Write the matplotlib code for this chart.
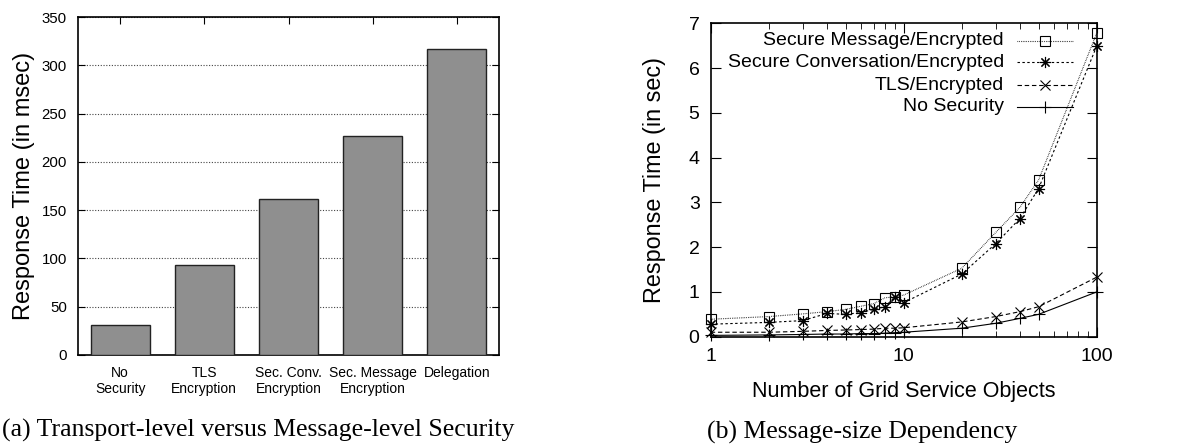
import matplotlib
matplotlib.use("Agg")
import matplotlib.pyplot as plt
from matplotlib.ticker import FixedLocator, NullFormatter

plt.rcParams['font.family'] = ['Liberation Sans', 'DejaVu Sans']

# ---- (a) transport-level vs message-level security ----
categories = ["No\nSecurity", "TLS\nEncryption", "Sec. Conv.\nEncryption",
              "Sec. Message\nEncryption", "Delegation"]
response_msec = [31, 93, 162, 227, 317]
yticks_a = [0, 50, 100, 150, 200, 250, 300, 350]

# ---- (b) message-size dependency ----
objects = [1, 2, 3, 4, 5, 6, 7, 8, 9, 10, 20, 30, 40, 50, 100]
secure_message = [0.39, 0.45, 0.51, 0.56, 0.61, 0.68, 0.74, 0.87, 0.89, 0.93,
                  1.53, 2.33, 2.89, 3.50, 6.78]
secure_conversation = [0.28, 0.32, 0.36, 0.52, 0.50, 0.54, 0.61, 0.67, 0.89, 0.76,
                       1.40, 2.08, 2.64, 3.31, 6.49]
tls_encrypted = [0.10, 0.10, 0.12, 0.14, 0.15, 0.16, 0.17, 0.19, 0.19, 0.20,
                 0.33, 0.45, 0.56, 0.67, 1.33]
no_security = [0.03, 0.04, 0.05, 0.06, 0.06, 0.07, 0.07, 0.08, 0.09, 0.10,
               0.19, 0.30, 0.41, 0.50, 1.00]
series_labels = ["Secure Message/Encrypted", "Secure Conversation/Encrypted",
                 "TLS/Encrypted", "No Security"]

fig = plt.figure(figsize=(11.8, 4.48), dpi=100)

# bar chart
ax1 = fig.add_axes([0.0661, 0.2076, 0.4229 - 0.0661, 0.962 - 0.2076])
xpos = list(range(len(categories)))
ax1.set_axisbelow(True)
ax1.yaxis.grid(True, linestyle=(0, (1, 1.5)), color="#444444", linewidth=0.8)
ax1.bar(xpos, response_msec, width=0.70, color="#8f8f8f", edgecolor="#222222",
        linewidth=1.0, zorder=3)
ax1.set_xlim(-0.5, 4.5)
ax1.set_ylim(0, 350)
ax1.set_yticks(yticks_a)
ax1.set_xticks(xpos)
ax1.set_xticklabels(categories, fontsize=10, linespacing=1.15)
ax1.tick_params(axis="y", direction="in", length=5, right=True, labelsize=10.8,
                pad=8)
ax1.tick_params(axis="x", direction="in", length=5, top=True, bottom=False,
                labelsize=10, pad=8)
ax1.set_ylabel("Response Time (in msec)", fontsize=17, labelpad=5)
for s in ax1.spines.values():
    s.set_linewidth(1.2)

# line chart
ax2 = fig.add_axes([0.6023, 0.2484, 0.9294 - 0.6023, 0.948 - 0.2484])
styles = [
    dict(linestyle=(0, (0.6, 1.0)), marker="s", markersize=7, mfc="none"),
    dict(linestyle=(0, (2.2, 2.2)), marker=(8, 2, 0), markersize=8, mfc="none"),
    dict(linestyle=(0, (4, 2.5)), marker="x", markersize=7, mfc="none"),
    dict(linestyle="-", marker="+", markersize=8, mfc="none"),
]
all_series = [secure_message, secure_conversation, tls_encrypted, no_security]
for vals, st in zip(all_series, styles):
    ax2.plot(objects, vals, color="black", linewidth=0.8, mec="black", mew=0.8,
             clip_on=False, **st)
ax2.set_xscale("log")
ax2.set_xlim(1, 100)
ax2.set_ylim(0, 7)
ax2.set_yticks(range(0, 8))
ax2.xaxis.set_major_locator(FixedLocator([1, 10, 100]))
ax2.set_xticklabels(["1", "10", "100"])
ax2.xaxis.set_minor_locator(FixedLocator([2, 3, 4, 5, 6, 7, 8, 9,
                                          20, 30, 40, 50, 60, 70, 80, 90]))
ax2.xaxis.set_minor_formatter(NullFormatter())
ax2.tick_params(which="major", direction="in", length=7, top=True, right=True,
                labelsize=14, pad=8)
ax2.tick_params(which="minor", direction="in", length=4, top=True, right=True)
ax2.set_xlabel("Number of Grid Service Objects", fontsize=15.5, labelpad=12)
ax2.set_ylabel("Response Time (in sec)", fontsize=16.8, labelpad=16)
for s in ax2.spines.values():
    s.set_linewidth(1.2)

# key: right-aligned text with sample line to its right
key_rows = [0.9445, 0.8756, 0.803, 0.734]
for label, st, yk in zip(series_labels, styles, key_rows):
    ax2.text(0.760, yk, label, transform=ax2.transAxes, ha="right",
             va="center", fontsize=14)
    ax2.plot([0.794, 0.939], [yk, yk], transform=ax2.transAxes, color="black",
             linewidth=0.8, linestyle=st["linestyle"], clip_on=False)
    ax2.plot([0.866], [yk], transform=ax2.transAxes, color="black",
             linestyle="none", marker=st["marker"], markersize=st["markersize"],
             mfc="none", mec="black", mew=0.8, clip_on=False)

# captions
fig.text(2 / 1180, 1 - 430 / 448, "(a) Transport-level versus Message-level Security",
         ha="left", va="center", fontsize=18.5, family="Liberation Serif")
fig.text(862 / 1180, 1 - 432 / 448, "(b) Message-size Dependency",
         ha="center", va="center", fontsize=18.5, family="Liberation Serif")

fig.savefig("out.png", dpi=100)
